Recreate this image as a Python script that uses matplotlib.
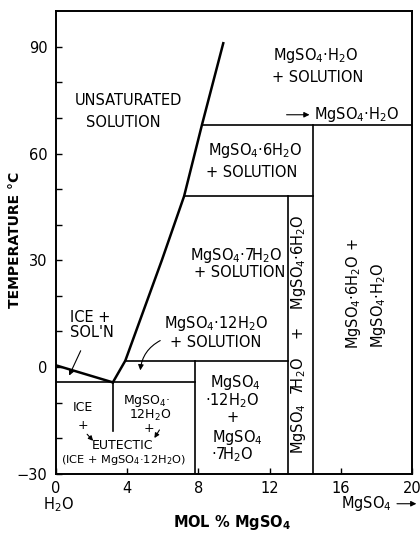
import matplotlib.pyplot as plt

plt.rcParams['font.family'] = ['DejaVu Sans']
plt.rcParams['mathtext.default'] = 'regular'

# liquidus curves (mol % MgSO4, temperature C)
ice_x = [0, 3.2]
ice_t = [0.5, -4.3]
sol_x = [3.2, 3.9, 5.95, 7.2, 8.2, 9.4]
sol_t = [-4.3, 1.8, 30, 48, 68, 91]

# phase boundaries: (x0, x1, t0, t1)
eut_t = -4.3
t12 = 1.8
t7 = 48
t6 = 68
x12 = 7.8
x7 = 13.05
x6 = 14.45
bounds = [
    (0, x12, eut_t, eut_t),
    (3.2, 3.2, eut_t, -18),
    (x12, x12, -30, t12),
    (3.9, x7, t12, t12),
    (x7, x7, -30, t7),
    (7.2, x6, t7, t7),
    (x6, x6, -30, t6),
    (8.2, 20, t6, t6),
]

fig = plt.figure(figsize=(4.2, 5.33), dpi=100)
ax = fig.add_axes([0.133, 0.111, 0.848, 0.868])

ax.plot(ice_x, ice_t, color='black', lw=1.8)
ax.plot(sol_x, sol_t, color='black', lw=1.8)
for x0, x1, t0, t1 in bounds:
    ax.plot([x0, x1], [t0, t1], color='black', lw=1.2)

ax.set_xlim(0, 20)
ax.set_ylim(-30, 100)
ax.set_xticks([0, 4, 8, 12, 16, 20])
ax.set_yticks([-30, 0, 30, 60, 90])
ax.set_yticks([-20, -10, 10, 20, 40, 50, 70, 80], minor=True)
ax.tick_params(direction='in', length=4, width=1, labelsize=10.5, pad=6)
ax.tick_params(axis='x', pad=5)
ax.tick_params(which='minor', direction='in', length=4, width=1)
for s in ax.spines.values():
    s.set_linewidth(1.4)

fs = 10.5
sm = 9
arr = dict(arrowstyle='-|>', color='black', lw=0.8, mutation_scale=8)

def lab(x, t, s, **kw):
    ax.text(x, t, s, ha='center', va='center', fontsize=kw.pop('fontsize', fs), **kw)

lab(4.06, 74.8, 'UNSATURATED')
lab(3.77, 68.7, 'SOLUTION')
lab(14.6, 87.5, 'MgSO$_4$·H$_2$O')
lab(14.7, 81.3, '+ SOLUTION')
ax.text(14.5, 70.9, 'MgSO$_4$·H$_2$O', ha='left', va='center', fontsize=fs)
ax.annotate('', xy=(14.4, 70.9), xytext=(12.8, 70.9), arrowprops=arr)
lab(11.2, 60.8, 'MgSO$_4$·6H$_2$O')
lab(11.0, 54.7, '+ SOLUTION')
lab(10.1, 31.4, 'MgSO$_4$·7H$_2$O')
lab(10.3, 26.6, '+ SOLUTION')
lab(9.0, 12.3, 'MgSO$_4$·12H$_2$O')
lab(8.96, 7.0, '+ SOLUTION')
ax.annotate('', xy=(4.73, -1.7), xytext=(6.0, 7.8),
            arrowprops=dict(arr, connectionstyle='arc3,rad=0.3'))
lab(1.94, 14.0, 'ICE +')
lab(2.0, 9.8, "SOL'N")
ax.annotate('', xy=(0.68, -3.1), xytext=(1.46, 5.3), arrowprops=arr)

# region below the eutectic line
lab(1.52, -11.5, 'ICE', fontsize=sm)
lab(1.52, -16.5, '+', fontsize=sm)
lab(3.72, -21.9, 'EUTECTIC', fontsize=sm)
lab(3.8, -26.1, '(ICE + MgSO$_4$·12H$_2$O)', fontsize=8.2)
lab(5.1, -9.5, 'MgSO$_4$·', fontsize=sm)
lab(5.3, -13.7, '12H$_2$O', fontsize=sm)
lab(5.2, -17.4, '+', fontsize=sm)
ax.annotate('', xy=(2.2, -21.3), xytext=(1.65, -18.3),
            arrowprops=dict(arr, mutation_scale=7))
ax.annotate('', xy=(5.45, -20.6), xytext=(5.9, -17.0),
            arrowprops=dict(arr, mutation_scale=7))
lab(10.1, -4.2, 'MgSO$_4$')
lab(9.9, -9.3, '·12H$_2$O')
lab(9.9, -14.3, '+')
lab(10.2, -19.9, 'MgSO$_4$')
lab(9.9, -24.7, '·7H$_2$O')
lab(13.63, 9.2, 'MgSO$_4$  7H$_2$O    +    MgSO$_4$·6H$_2$O', rotation=90)
lab(16.7, 20.5, 'MgSO$_4$·6H$_2$O +', rotation=90)
lab(18.1, 17.4, 'MgSO$_4$·H$_2$O', rotation=90)

# axis end labels and titles
ax.text(0.17, -38.6, 'H$_2$O', ha='center', va='center', fontsize=fs, clip_on=False)
ax.text(17.46, -38.2, 'MgSO$_4$', ha='center', va='center', fontsize=fs, clip_on=False)
ax.annotate('', xy=(20.4, -38.4), xytext=(19.0, -38.4), arrowprops=arr,
            annotation_clip=False)
fig.text(232 / 420, 1 - 522 / 533, 'MOL % MgSO$_4$', ha='center', va='center',
         fontsize=fs, fontweight='bold')
fig.text(15 / 420, 1 - 240 / 533, 'TEMPERATURE °C', ha='center', va='center',
         fontsize=10, fontweight='bold', rotation=90)

fig.savefig('out.png', dpi=100)
